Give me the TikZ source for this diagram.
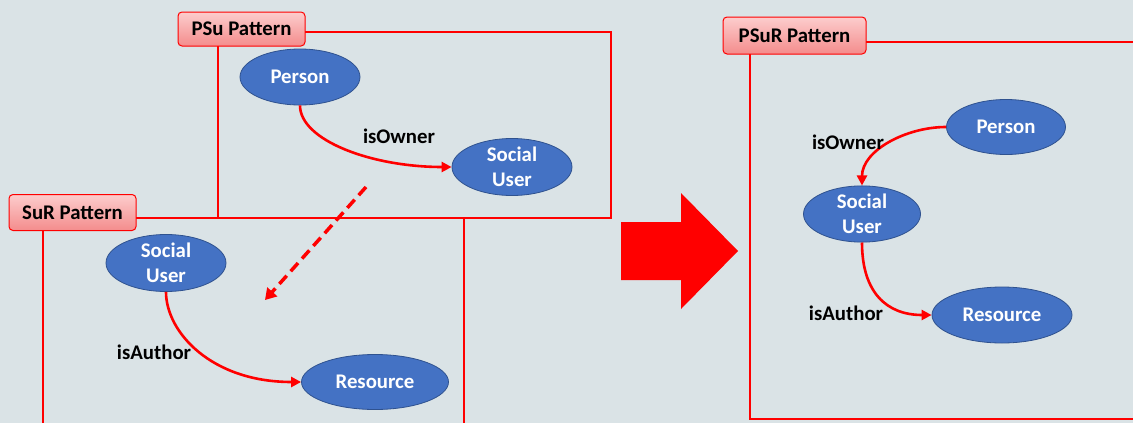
\documentclass[tikz,border=0pt]{standalone}
\usepackage{fontspec}
\setmainfont{Carlito}
\usetikzlibrary{shapes.geometric,arrows.meta,calc}
\definecolor{bg}{RGB}{218,227,230}
\definecolor{nodeblue}{RGB}{68,114,196}
\definecolor{nodeedge}{RGB}{47,82,143}
\definecolor{tabtop}{RGB}{252,205,205}
\definecolor{tabbot}{RGB}{244,140,140}
\begin{document}
\begin{tikzpicture}[x=1pt,y=-1pt,
  every node/.style={font=\fontsize{20.8}{25}\selectfont\bfseries},
  concept/.style={ellipse,draw=nodeedge,line width=0.8pt,fill=nodeblue,text=white,inner sep=0pt,align=center},
  tab/.style={rectangle,rounded corners=4pt,draw=red,line width=1pt,top color=tabtop,bottom color=tabbot,inner sep=0pt,text=black},
  frame/.style={draw=red,line width=2pt},
  rel/.style={draw=red,line width=2.6pt,-{Triangle[length=10pt,width=10pt]}},
  lbl/.style={text=black,inner sep=0pt}]
\useasboundingbox (0,0) rectangle (1133,423);
\fill[bg] (0,0) rectangle (1133,423);

% frames
\draw[frame] (305,32) -- (611,32) -- (611,218) -- (136,218);
\draw[frame] (218,46) -- (218,218);
\draw[frame] (43,231) -- (43,425);
\draw[frame] (464,218) -- (464,425);
\draw[frame] (866,42) -- (1135,42);
\draw[frame] (750,54) -- (750,419) -- (1135,419);

% tabs
\node[tab,minimum width=127pt,minimum height=34pt] (psu) at (241.5,29) {PSu Pattern};
\node[tab,minimum width=127pt,minimum height=36pt] (sur) at (72.5,212.5) {SuR Pattern};
\node[tab,minimum width=143pt,minimum height=37pt] (psur) at (794.5,35.5) {PSuR Pattern};

% PSu pattern
\node[concept,minimum width=120pt,minimum height=56pt] (p1) at (300,77) {Person};
\node[concept,minimum width=120pt,minimum height=57pt] (su1) at (512,167) {Social\\User};
\draw[rel] (p1.south) .. controls +(0,35) and +(-80,0) .. (su1.west);
\node[lbl] (o1) at (399,136) {isOwner};

% SuR pattern
\node[concept,minimum width=120pt,minimum height=57pt] (su2) at (166,263) {Social\\User};
\node[concept,minimum width=147pt,minimum height=55pt] (r2) at (375,382) {Resource};
\draw[rel] (su2.south) .. controls +(0,40) and +(-90,0) .. (r2.west);
\node[lbl] (a2) at (154,352) {isAuthor};

% dashed merge arrow
\coordinate (ds) at (366,187);
\coordinate (de) at (265,300);
\draw[draw=red,line width=3.5pt,dash pattern=on 11pt off 6pt,-{Triangle[length=11pt,width=13pt]}] (ds) -- (de);

% big arrow
\fill[red] (621,222) -- (681,222) -- (681,193) -- (738,251) -- (681,309) -- (681,280) -- (621,280) -- cycle;

% PSuR pattern
\node[concept,minimum width=119pt,minimum height=55pt] (p3) at (1006,127) {Person};
\node[concept,minimum width=117pt,minimum height=56pt] (su3) at (862,214) {Social\\User};
\node[concept,minimum width=140pt,minimum height=56pt] (r3) at (1002,315) {Resource};
\draw[rel] (p3.west) .. controls +(-40,0) and +(0,-35) .. (su3.north);
\draw[rel] (su3.south) .. controls +(0,50) and +(-45,0) .. (r3.west);
\node[lbl] (o3) at (848,142) {isOwner};
\node[lbl] (a3) at (846,313) {isAuthor};
\end{tikzpicture}
\end{document}
